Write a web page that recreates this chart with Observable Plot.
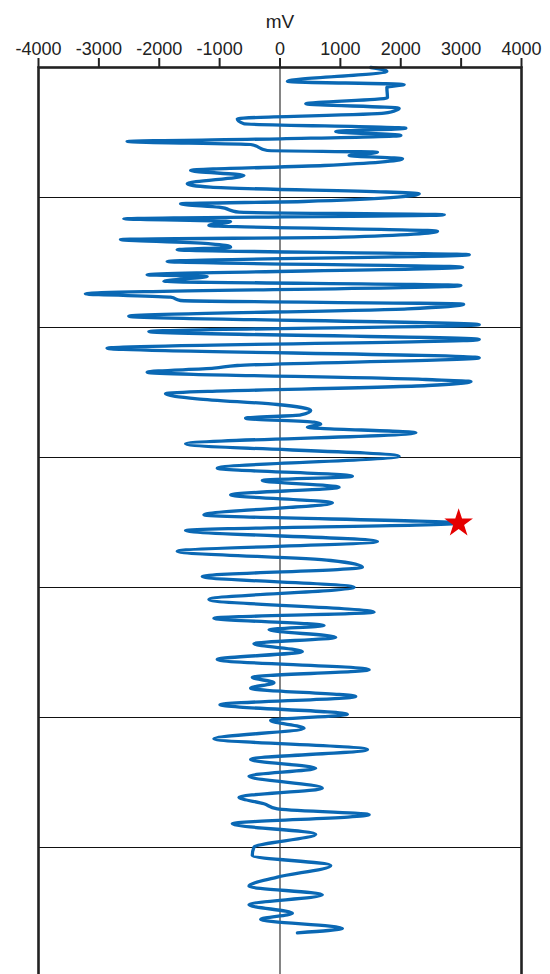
<!DOCTYPE html>
<html><head><meta charset="utf-8">
<script src="https://cdn.jsdelivr.net/npm/d3@7"></script>
<script src="https://cdn.jsdelivr.net/npm/@observablehq/plot@0.6"></script>
<style>html,body{margin:0;padding:0;background:#fff;}</style>
</head><body><div id="chart"></div>
<script>
// Depth (down the log, arbitrary units; grid every 130) and reading in mV
const depth = [
  0, 3.7, 14, 17, 19.7, 30.3, 36.3, 40.7, 45.7, 51.3, 56.3, 60.7, 64, 68, 71.3, 74, 77, 83, 84.7, 88, 91.3, 98, 103, 108, 116.3, 119.7, 126.3,
  134, 136.3, 139.7, 144.7, 147.3, 151.3, 154, 158, 163.7, 169.7, 172, 176.3, 179.7, 182.3, 187.3, 194, 199.7, 207.3, 209, 213.7, 218, 226.3, 229.7, 233, 236.7, 241.3, 248.7, 257.3,
  264, 272, 280.7, 290.3, 298, 300.7, 304.7, 312, 314, 318, 326.3, 331.3, 337, 343, 347.3, 350.7, 354.7, 356.7, 359.7, 365.3, 376.3, 388.7,
  400.7, 408.7, 413, 419.7, 427.3, 435.3, 447.3, 455.7, 463, 474, 483.7, 493, 499.7, 509, 519.7,
  532, 544.7, 550.7, 558, 562.3, 569.7, 576.3, 584, 592, 602.3, 609.7, 615.3, 620.7, 629, 637.3, 646.7,
  653, 660.7, 671.3, 682, 692, 700.7, 708.7, 720.7, 729.7, 736.3, 741.3, 747.3, 756.3, 766.7, 779.7,
  788, 798, 809.7, 818.7, 827.3, 837.3, 845.7, 852, 860.7, 865.3
];
const mV = [
  1504, 1770, 122, 2057, 1770, 1780, 426, 1974, 1725, -708, -597, 2085, 923, 2002, 11, -2533, -487, -210, 1615, 1145, 2030, 730, -1482, -597, -1537, -1150, 2306,
  398, -1648, -1012, -680, 2721, -2588, -818, -1178, 2610, 1034, -2643, -1150, -818, -1703, 3136, -1869, 3025, -2201, -1206, -1924, 2997, -3224, -1814, -1648, 3042, 2112, -2505, 3301,
  -2173, 3301, -2865, 3301, -708, -1095, -2201, 2417, 3163, 2444, -1897, -1371, -44, 509, 343, -570, 564, 675, 453, 2251, -1565, 1974,
  -1040, 1200, -293, 979, -818, 868, -1261, 2959, -1565, 1615, -1703, 841, 1366, -1288, 1228,
  -1178, 1559, -1095, 730, -182, 923, -431, 370, -1040, 1477, -459, -100, -487, 1255, -995, 1117,
  -155, 398, -1095, 1449, -487, 592, -514, 702, -680, -265, -44, 1477, -791, 592, -431,
  -459, 841, -44, -514, 702, -514, 205, -321, 1034, 288
];
const xTicks = [-4000, -3000, -2000, -1000, 0, 1000, 2000, 3000, 4000];
const gridDepths = [130, 260, 390, 520, 650, 780];
const starMV = [2959];
const starDepth = [455.7];
const axisLabel = "mV";

const trace = depth.map((d, i) => ({depth: d, mV: mV[i]}));
const star = starMV.map((v, i) => ({mV: v, depth: starDepth[i]}));

const chart = Plot.plot({
  width: 550, height: 990,
  marginLeft: 38, marginRight: 29, marginTop: 67, marginBottom: 13,
  style: {fontFamily: "'Liberation Sans', Arial, Helvetica, sans-serif", fontSize: "18px", color: "#222", background: "#fff", overflow: "visible"},
  x: {domain: [-4000, 4000], axis: null},
  y: {domain: [0, 910], reverse: true, axis: null},
  marks: [
    Plot.ruleY(gridDepths, {stroke: "#111", strokeWidth: 1.2}),
    Plot.ruleX([0], {stroke: "#333", strokeWidth: 1.2}),
    Plot.line(trace, {x: "mV", y: "depth", stroke: "#0a68b4", strokeWidth: 3.3, curve: "monotone-y"}),
    Plot.dot(star, {x: "mV", y: "depth", symbol: "star", r: 9, fill: "#e50000", stroke: "none"}),
    Plot.frame({stroke: "#222", strokeWidth: 2.6}),
    Plot.axisX(xTicks, {anchor: "top", tickSize: 10, tickPadding: 3, strokeWidth: 2, stroke: "#222", fontSize: 18,
      label: null, tickFormat: d => String(d)}),
    Plot.text([axisLabel], {frameAnchor: "top", text: d => d, lineAnchor: "bottom", dy: -40, fontSize: 19, fill: "#222"})
  ]
});
document.getElementById("chart").appendChild(chart);
</script>
</body></html>
